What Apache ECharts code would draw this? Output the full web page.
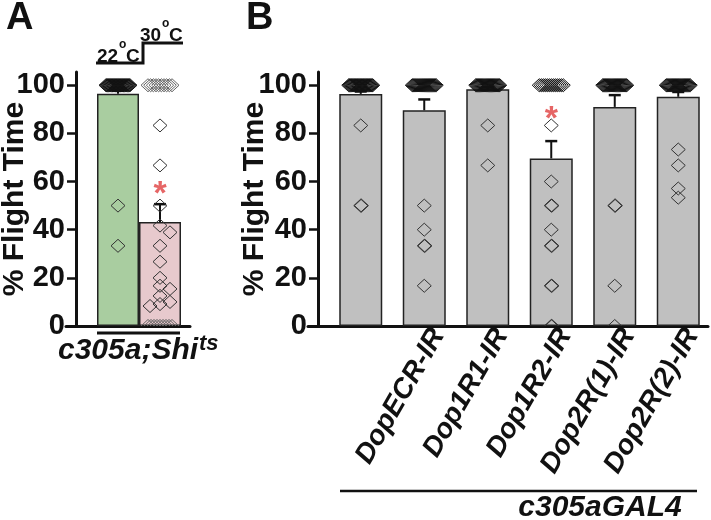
<!DOCTYPE html>
<html><head><meta charset="utf-8">
<script src="https://cdn.jsdelivr.net/npm/echarts@6/dist/echarts.min.js"></script>
<style>html,body{margin:0;padding:0;background:#fff}#c{width:711px;height:520px}</style>
</head><body><div id="c"></div>
<script>
// ---------------- DATA ----------------
const yTicks = [0, 20, 40, 60, 80, 100];
// Panel A
const catsA = ['22°C', '30°C'];
const meansA = [96.5, 43.2];
const semA = [1.2, 7.4];
const ptsA22Vals = [100, 50, 33.3];
const ptsA22Cnt  = [31, 1, 1];
const ptsA30Vals = [100, 83.3, 66.7, 50, 41.7, 38.9, 33.3, 26.7, 20, 16.7, 15.4, 12.5, 10, 9.1, 8.3, 0];
const ptsA30Cnt  = [10, 1, 1, 1, 1, 1, 1, 1, 1, 1, 1, 1, 1, 1, 1, 9];
const sigA = [[1, 58.5]];
// Panel B
const catsB = ['', 'DopECR-IR', 'Dop1R1-IR', 'Dop1R2-IR', 'Dop2R(1)-IR', 'Dop2R(2)-IR'];
const meansB = [96.4, 89.6, 98.3, 69.6, 91.0, 95.2];
const semB = [1.0, 4.5, 1.0, 7.2, 4.9, 2.0];
const ptsB0Vals = [100, 83.3, 50];            const ptsB0Cnt = [29, 1, 2];
const ptsB1Vals = [100, 50, 40, 33.3, 16.7];  const ptsB1Cnt = [26, 1, 1, 2, 1];
const ptsB2Vals = [100, 83.3, 66.7];          const ptsB2Cnt = [27, 1, 1];
const ptsB3Vals = [100, 83.3, 60, 50, 40, 33.3, 16.7, 0]; const ptsB3Cnt = [13, 1, 1, 2, 1, 2, 2, 2];
const ptsB4Vals = [100, 50, 16.7, 0];         const ptsB4Cnt = [27, 2, 1, 1];
const ptsB5Vals = [100, 73.3, 66.7, 57.1, 53.3]; const ptsB5Cnt = [27, 1, 1, 1, 1];
const sigB = [[3, 89.5]];

// ---------------- LAYOUT ----------------
const FONT = '"Liberation Sans", Arial, sans-serif';
const GTOP = 72, GH = 254, YMAX = 105.5;
const unitPx = GH / YMAX;
const COLORS = ['#333', '#111', '#666'];

// simple point layout: big ties spread into a cluster, near values dodge sideways
// each output row: [category, value, x-offset(px), colour index]
function layoutPoints(cat, vals, cnt, clusterColorIdx) {
  const out = [], placed = [];
  vals.forEach((v, i) => {
    const n = cnt[i];
    if (n >= 6) {
      const w = 24;
      for (let k = 0; k < n; k++) out.push([cat, v, -w / 2 + k * w / (n - 1), clusterColorIdx]);
      placed.push({ y: v * unitPx, x: 0, w: w });
    } else {
      const cands = [0, 6, -6, 10, -10];
      let cx = 0;
      for (const c of cands) {
        if (placed.every(p => Math.abs(p.y - v * unitPx) >= 7 || Math.abs(p.x - c) >= 7 + p.w / 2)) { cx = c; break; }
      }
      placed.push({ y: v * unitPx, x: cx, w: 0 });
      for (let k = 0; k < n; k++) out.push([cat, v, cx + k * 0.7, 0]);
    }
  });
  return out;
}

const scatterA = [].concat(
  layoutPoints(0, ptsA22Vals, ptsA22Cnt, 1),
  layoutPoints(1, ptsA30Vals, ptsA30Cnt, 2)
);
const bVals = [ptsB0Vals, ptsB1Vals, ptsB2Vals, ptsB3Vals, ptsB4Vals, ptsB5Vals];
const bCnts = [ptsB0Cnt, ptsB1Cnt, ptsB2Cnt, ptsB3Cnt, ptsB4Cnt, ptsB5Cnt];
let scatterB = [];
bVals.forEach((vals, i) => { scatterB = scatterB.concat(layoutPoints(i, vals, bCnts[i], 1)); });

function diamondItem(params, api) {
  const p = api.coord([api.value(0), api.value(1)]);
  const x = p[0] + api.value(2), y = p[1], hw = 7, hh = 6.5;
  return { type: 'polygon', shape: { points: [[x, y - hh], [x + hw, y], [x, y + hh], [x - hw, y]] },
    style: { fill: 'none', stroke: COLORS[api.value(3)], lineWidth: 1 } };
}

function errItem(params, api) {
  const x = api.value(0), m = api.value(1), e = api.value(2);
  const p0 = api.coord([x, m]), p1 = api.coord([x, m + e]);
  const hw = 6;
  return { type: 'group', children: [
    { type: 'line', shape: { x1: p0[0], y1: p0[1], x2: p1[0], y2: p1[1] }, style: { stroke: '#111', lineWidth: 2 } },
    { type: 'line', shape: { x1: p1[0] - hw, y1: p1[1], x2: p1[0] + hw, y2: p1[1] }, style: { stroke: '#111', lineWidth: 2.5 } }
  ] };
}

function yAxisMain(gridIndex, offset, gap) {
  return {
    gridIndex, type: 'value', min: 0, max: YMAX, offset,
    name: '% Flight Time', nameLocation: 'middle', nameRotate: 90, nameGap: gap, nameMoveOverlap: false,
    nameTextStyle: { fontFamily: FONT, fontWeight: 'bold', fontSize: 30, color: '#111' },
    axisLine: { show: true, lineStyle: { color: '#111', width: 3 } },
    axisTick: { show: true, inside: false, length: 9, lineStyle: { color: '#111', width: 2.5 }, customValues: yTicks },
    axisLabel: { show: true, margin: 11, fontFamily: FONT, fontWeight: 'bold', fontSize: 29, color: '#111', customValues: yTicks },
    splitLine: { show: false }
  };
}
function hiddenY(gridIndex) { return { gridIndex, type: 'value', min: 0, max: YMAX, show: false }; }
function baseX(gridIndex) {
  return { gridIndex, type: 'category', data: [''],
    axisLine: { show: true, lineStyle: { color: '#111', width: 3 } },
    axisTick: { show: false }, axisLabel: { show: false } };
}

const sigLabel = { show: true, formatter: '*', position: [0, 0], align: 'center', verticalAlign: 'middle',
  offset: [0, 9], fontFamily: FONT, fontWeight: 'bold', fontSize: 34, color: '#e04040' };

const gridBase = { outerBoundsMode: 'none', containLabel: false };
const option = {
  animation: false,
  backgroundColor: '#fff',
  grid: [
    Object.assign({ left: 97, top: GTOP, width: 84, height: GH }, gridBase),
    Object.assign({ left: 66, top: GTOP, width: 124, height: GH }, gridBase),
    Object.assign({ left: 329, top: GTOP, width: 381, height: GH }, gridBase),
    Object.assign({ left: 308, top: GTOP, width: 400, height: GH }, gridBase),
    // label carrier for the rotated group names of panel B
    Object.assign({ left: 343, top: GTOP, width: 381, height: GH }, gridBase)
  ],
  xAxis: [
    { gridIndex: 0, type: 'category', data: catsA, axisLine: { show: false }, axisTick: { show: false }, axisLabel: { show: false } },
    baseX(1),
    { gridIndex: 2, type: 'category', data: catsB, axisLine: { show: false }, axisTick: { show: false }, axisLabel: { show: false } },
    baseX(3),
    { gridIndex: 4, type: 'category', data: catsB, axisLine: { show: false }, axisTick: { show: false },
      axisLabel: { show: true, interval: 0, rotate: 60, margin: 5, fontFamily: FONT, fontWeight: 'bold', fontStyle: 'italic', fontSize: 28, color: '#111' } }
  ],
  yAxis: [ yAxisMain(0, 21, 46), hiddenY(1), yAxisMain(2, 11, 48), hiddenY(3), hiddenY(4) ],
  series: [
    { type: 'bar', xAxisIndex: 0, yAxisIndex: 0, barWidth: 42, z: 2,
      data: meansA.map((v, i) => ({ value: v, itemStyle: { color: ['#a9cda0', '#e7c9cd'][i] } })),
      itemStyle: { borderColor: '#222', borderWidth: 1.5 } },
    { type: 'custom', xAxisIndex: 0, yAxisIndex: 0, z: 3, renderItem: errItem,
      data: meansA.map((m, i) => [i, m, semA[i]]) },
    { type: 'custom', xAxisIndex: 0, yAxisIndex: 0, z: 4, clip: true, renderItem: diamondItem, data: scatterA },
    { type: 'scatter', xAxisIndex: 0, yAxisIndex: 0, z: 5, symbolSize: 0, label: sigLabel, data: sigA },

    { type: 'bar', xAxisIndex: 2, yAxisIndex: 2, barWidth: 43, z: 2, data: meansB,
      itemStyle: { color: '#c0c0c0', borderColor: '#222', borderWidth: 1.5 } },
    { type: 'custom', xAxisIndex: 2, yAxisIndex: 2, z: 3, renderItem: errItem,
      data: meansB.map((m, i) => [i, m, semB[i]]) },
    { type: 'custom', xAxisIndex: 2, yAxisIndex: 2, z: 4, clip: true, renderItem: diamondItem, data: scatterB },
    { type: 'scatter', xAxisIndex: 2, yAxisIndex: 2, z: 5, symbolSize: 0, label: sigLabel, data: sigB }
  ],
  graphic: [
    { type: 'text', left: 6, top: 0, style: { text: 'A', font: 'bold 38px ' + FONT, fill: '#111' } },
    { type: 'text', left: 246, top: 0, style: { text: 'B', font: 'bold 38px ' + FONT, fill: '#111' } },
    { type: 'polyline', shape: { points: [[96, 63], [143, 63], [143, 43], [183, 43]] }, style: { stroke: '#111', lineWidth: 3, fill: null } },
    { type: 'text', x: 97, y: 47, style: { text: '22', font: 'bold 19px ' + FONT, fill: '#111' } },
    { type: 'text', x: 119, y: 39, style: { text: 'o', font: 'bold 12px ' + FONT, fill: '#111' } },
    { type: 'text', x: 126, y: 47, style: { text: 'C', font: 'bold 19px ' + FONT, fill: '#111' } },
    { type: 'text', x: 140, y: 26, style: { text: '30', font: 'bold 19px ' + FONT, fill: '#111' } },
    { type: 'text', x: 162, y: 18, style: { text: 'o', font: 'bold 12px ' + FONT, fill: '#111' } },
    { type: 'text', x: 169, y: 26, style: { text: 'C', font: 'bold 19px ' + FONT, fill: '#111' } },
    { type: 'line', shape: { x1: 97, y1: 333, x2: 180, y2: 333 }, style: { stroke: '#111', lineWidth: 3 } },
    { type: 'text', x: 58, y: 336, style: { text: 'c305a;Shi', font: 'italic bold 30px ' + FONT, fill: '#111' } },
    { type: 'text', x: 199, y: 333, style: { text: 'ts', font: 'italic bold 22px ' + FONT, fill: '#111' } },
    { type: 'line', shape: { x1: 340, y1: 491, x2: 697, y2: 491 }, style: { stroke: '#111', lineWidth: 2.5 } },
    { type: 'text', x: 600, y: 493, style: { text: 'c305aGAL4', textAlign: 'center', font: 'italic bold 30px ' + FONT, fill: '#111' } }
  ]
};
const chart = echarts.init(document.getElementById('c'));
chart.setOption(option);
</script>
</body></html>
